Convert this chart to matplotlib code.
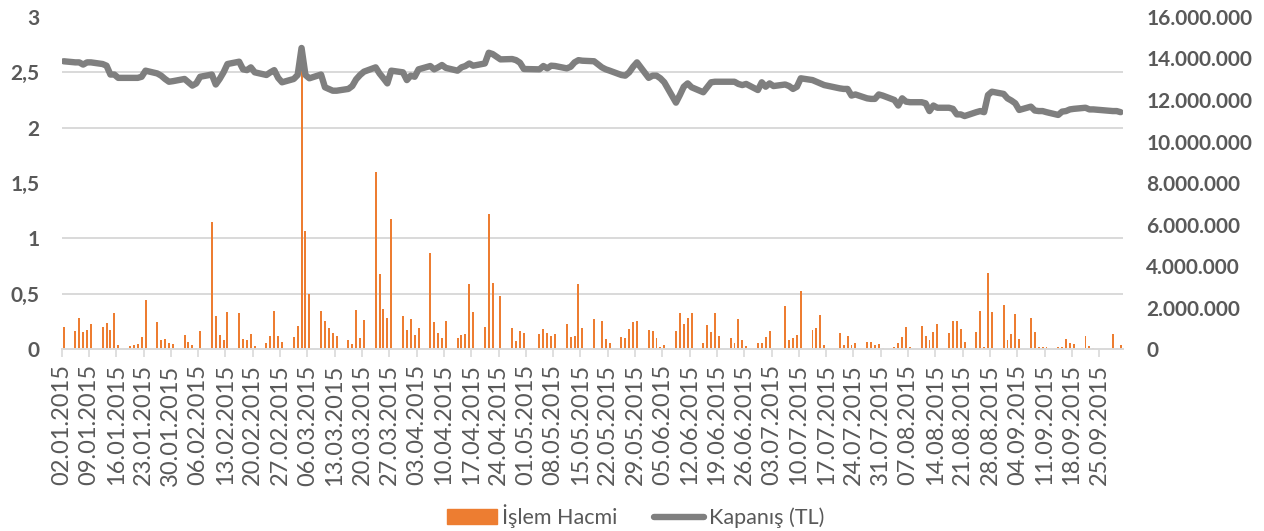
import matplotlib
matplotlib.use('Agg')
import matplotlib.pyplot as plt
import matplotlib.dates as mdates
from matplotlib.lines import Line2D
from matplotlib.patches import Patch
import numpy as np
import pandas as pd

plt.rcParams['font.family'] = ['Lato', 'DejaVu Sans']

# trading days 2015 (Borsa Istanbul holidays removed)
holidays = ['2015-04-23', '2015-05-01', '2015-05-19', '2015-07-17',
            '2015-09-24', '2015-09-25']
dates = pd.bdate_range('2015-01-02', '2015-09-30')
dates = dates[~dates.isin(pd.to_datetime(holidays))]

# İşlem Hacmi, million TL, one line per week
volume_m = [
    1.04,
    0.87, 1.48, 0.82, 0.90, 1.20,
    1.06, 1.27, 0.93, 1.73, 0.20,
    0.16, 0.20, 0.25, 0.60, 2.35,
    1.29, 0.42, 0.50, 0.30, 0.22,
    0.66, 0.35, 0.19, 0.06, 0.87,
    6.14, 1.60, 0.66, 0.43, 1.77,
    1.73, 0.48, 0.45, 0.72, 0.16,
    0.29, 0.61, 1.83, 0.64, 0.35,
    0.56, 1.12, 13.54, 5.70, 2.67,
    1.85, 1.33, 1.01, 0.75, 0.61,
    0.45, 0.26, 1.90, 0.55, 1.40,
    8.55, 3.61, 1.94, 1.49, 6.27,
    1.57, 0.90, 1.45, 0.67, 1.00,
    4.63, 1.32, 0.75, 0.53, 1.35,
    0.55, 0.69, 0.72, 3.15, 1.80,
    1.08, 6.50, 3.20, 2.57,
    1.03, 0.40, 0.87, 0.79,
    0.71, 0.95, 0.77, 0.63, 0.71,
    1.22, 0.58, 0.63, 3.15, 1.01,
    1.46, 1.37, 0.50, 0.30,
    0.56, 0.53, 0.95, 1.32, 1.37,
    0.90, 0.87, 0.53, 0.10, 0.20,
    0.87, 1.75, 1.19, 1.51, 1.72,
    0.27, 1.14, 0.84, 1.75, 0.63,
    0.55, 0.27, 1.46, 0.42, 0.13,
    0.27, 0.29, 0.58, 0.85, 0.05,
    2.06, 0.43, 0.55, 0.69, 2.78,
    0.92, 1.01, 1.62, 0.21,
    0.75, 0.21, 0.63, 0.21, 0.27,
    0.35, 0.32, 0.19, 0.24, 0.06,
    0.11, 0.30, 0.59, 1.08, 0.11,
    1.11, 0.63, 0.42, 0.80, 1.20,
    0.77, 1.35, 1.35, 0.96, 0.34,
    0.82, 1.82, 0.10, 3.66, 1.78,
    2.12, 0.42, 0.74, 1.69, 0.48,
    1.51, 0.80, 0.10, 0.10, 0.10,
    0.10, 0.10, 0.50, 0.30, 0.26,
    0.64, 0.14, 0.03,
    0.71, 0.05, 0.21,
]

# Kapanış (TL)
close = [
    2.60,
    2.59, 2.59, 2.57, 2.59, 2.59,
    2.575, 2.56, 2.48, 2.48, 2.45,
    2.45, 2.45, 2.45, 2.46, 2.515,
    2.49, 2.47, 2.44, 2.415, 2.42,
    2.44, 2.41, 2.38, 2.40, 2.46,
    2.48, 2.39, 2.44, 2.50, 2.575,
    2.596, 2.527, 2.52, 2.545, 2.50,
    2.476, 2.50, 2.52, 2.45, 2.41,
    2.44, 2.476, 2.72, 2.476, 2.446,
    2.48, 2.365, 2.35, 2.334, 2.334,
    2.35, 2.376, 2.437, 2.476, 2.506,
    2.545, 2.49, 2.446, 2.40, 2.515,
    2.50, 2.43, 2.47, 2.46, 2.527,
    2.557, 2.527, 2.545, 2.566, 2.54,
    2.515, 2.545, 2.557, 2.58, 2.56,
    2.58, 2.677, 2.665, 2.617,
    2.62, 2.61, 2.587, 2.53,
    2.527, 2.557, 2.536, 2.56, 2.557,
    2.536, 2.55, 2.59, 2.61, 2.605,
    2.60, 2.545, 2.527, 2.515,
    2.476, 2.47, 2.50, 2.55, 2.59,
    2.45, 2.47, 2.47, 2.446, 2.41,
    2.226, 2.295, 2.37, 2.40, 2.365,
    2.32, 2.365, 2.41, 2.415, 2.415,
    2.415, 2.415, 2.395, 2.385, 2.395,
    2.34, 2.41, 2.37, 2.40, 2.376,
    2.39, 2.376, 2.35, 2.37, 2.446,
    2.43, 2.415, 2.40, 2.385,
    2.355, 2.35, 2.35, 2.29, 2.30,
    2.265, 2.26, 2.26, 2.30, 2.29,
    2.25, 2.20, 2.265, 2.235, 2.23,
    2.23, 2.22, 2.15, 2.20, 2.18,
    2.18, 2.17, 2.12, 2.12, 2.105,
    2.14, 2.15, 2.14, 2.295, 2.325,
    2.305, 2.265, 2.245, 2.22, 2.16,
    2.19, 2.155, 2.15, 2.15, 2.14,
    2.115, 2.145, 2.15, 2.165, 2.17,
    2.18, 2.165, 2.165,
    2.15, 2.15, 2.14,
]

tick_dates = pd.date_range('2015-01-02', '2015-09-25', freq='7D')
left_ticks = [0, 0.5, 1, 1.5, 2, 2.5, 3]
left_labels = ['0', '0,5', '1', '1,5', '2', '2,5', '3']
right_ticks = [0, 2e6, 4e6, 6e6, 8e6, 10e6, 12e6, 14e6, 16e6]

orange = '#ED7D31'
grey = '#7F7F7F'
txt = '#595959'
gridc = '#D9D9D9'

x = mdates.date2num(dates) + 0.5
vol = np.array(volume_m) * 1e6

fig = plt.figure(figsize=(12.64, 5.31), dpi=100)
ax = fig.add_axes([0.0488, 0.3427, 0.8393, 0.6253])
ax2 = ax.twinx()

# bars on the volume axis (labels on the right)
ax.bar(x, vol, width=0.5, color=orange, zorder=2)
ax.set_ylim(0, 16e6)
ax.set_xlim(mdates.date2num(pd.Timestamp('2015-01-02')),
            mdates.date2num(pd.Timestamp('2015-10-01')))
ax.yaxis.tick_right()
ax.set_yticks(right_ticks)
ax.set_yticklabels(['{:,.0f}'.format(v).replace(',', '.') for v in right_ticks],
                   fontsize=15, fontweight='bold', color=txt)
ax.set_yticks(np.linspace(0, 16e6, 7), minor=True)
ax.grid(which='minor', axis='y', color=gridc, lw=1.4, zorder=0)
ax.tick_params(axis='y', which='both', length=0, pad=17)
ax.set_xticks(mdates.date2num(tick_dates))
ax.set_xticklabels([d.strftime('%d.%m.%Y') for d in tick_dates],
                   rotation=90, fontsize=17, color=txt)
ax.tick_params(axis='x', length=6, width=1.2, color=gridc, pad=5)
for s in ['top', 'left', 'right']:
    ax.spines[s].set_visible(False)
ax.spines['bottom'].set_color(gridc)
ax.spines['bottom'].set_linewidth(1.4)
ax.set_axisbelow(True)

# closing price line (labels on the left)
ax2.plot(x, close, color=grey, lw=4.6, solid_joinstyle='round',
         solid_capstyle='round')
ax2.set_ylim(0, 3)
ax2.yaxis.tick_left()
ax2.set_yticks(left_ticks)
ax2.set_yticklabels(left_labels, fontsize=15, fontweight='bold', color=txt)
ax2.tick_params(axis='y', length=0, pad=16)
for s in ['top', 'left', 'right', 'bottom']:
    ax2.spines[s].set_visible(False)

handles = [Patch(color=orange, label='İşlem Hacmi'),
           Line2D([0], [0], color=grey, lw=4.6, solid_capstyle='round',
                  label='Kapanış (TL)')]
fig.legend(handles=handles, loc='center', bbox_to_anchor=(0.503, 0.028),
           ncol=2, frameon=False, fontsize=15.5, labelcolor=txt,
           handlelength=2.3, handletextpad=0.25, columnspacing=1.7)

fig.savefig('out.png', dpi=100)
